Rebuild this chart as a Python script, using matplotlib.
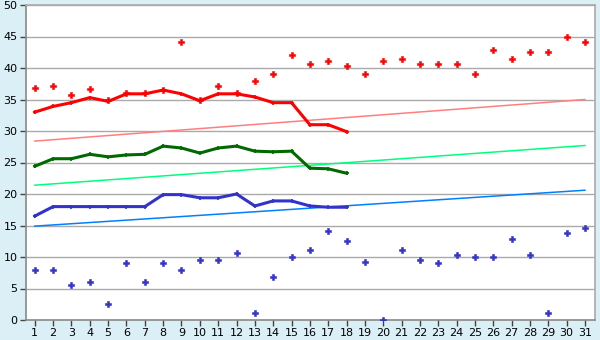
import matplotlib
matplotlib.use("Agg")
import matplotlib.pyplot as plt
import numpy as np

days = list(range(1, 32))

red_points = [36.8, 37.2, 35.7, 36.6, 35.0, 36.0, 36.0, 36.5, 44.1, 35.0,
              37.1, 36.0, 38.0, 39.0, 42.0, 40.6, 41.1, 40.3, 39.0, 41.1,
              41.5, 40.6, 40.6, 40.6, 39.0, 42.8, 41.5, 42.5, 42.5, 45.0, 44.1]
blue_points = [8.0, 8.0, 5.5, 6.0, 2.6, 9.0, 6.0, 9.0, 8.0, 9.5,
               9.5, 10.6, 1.1, 6.9, 10.0, 11.1, 14.1, 12.5, 9.2, 0.0,
               11.1, 9.5, 9.0, 10.3, 10.0, 10.0, 12.8, 10.3, 1.1, 13.8, 14.6]

line_days = list(range(1, 19))
red_line = [33.0, 33.9, 34.5, 35.3, 34.7, 35.9, 35.9, 36.5, 35.9, 34.8,
            35.9, 35.9, 35.4, 34.5, 34.5, 31.0, 31.0, 29.9]
green_line = [24.4, 25.6, 25.6, 26.3, 25.9, 26.2, 26.3, 27.6, 27.3, 26.5,
              27.3, 27.6, 26.8, 26.7, 26.8, 24.1, 24.0, 23.3]
blue_line = [16.5, 18.0, 18.0, 18.0, 18.0, 18.0, 18.0, 19.9, 19.9, 19.4,
             19.4, 20.0, 18.1, 18.9, 18.9, 18.1, 17.9, 17.9]

trend_days = [1, 31]
red_trend = [28.4, 35.0]
green_trend = [21.4, 27.7]
blue_trend = [14.9, 20.6]

y_ticks = [0, 5, 10, 15, 20, 25, 30, 35, 40, 45, 50]

bg = "#daeff6"
fig = plt.figure(figsize=(6, 3.4), dpi=100, facecolor=bg)
ax = fig.add_axes([26/600, 20/340, 569/600, 315/340])
ax.set_facecolor("white")

for y in y_ticks[1:]:
    ax.axhline(y, color="#aaaaaa", lw=1.0, zorder=1)

ax.plot(trend_days, red_trend, color="#ff7f7f", lw=1.1, zorder=2)
ax.plot(trend_days, green_trend, color="#00ff7f", lw=1.1, zorder=2)
ax.plot(trend_days, blue_trend, color="#007fff", lw=1.1, zorder=2)

ax.plot(line_days, red_line, color="#ff0000", lw=2.2, marker="+", ms=3.5, mew=1.2, zorder=3)
ax.plot(line_days, green_line, color="#006a00", lw=2.2, marker="+", ms=3.5, mew=1.2, zorder=3)
ax.plot(line_days, blue_line, color="#3333cc", lw=2.2, marker="+", ms=3.5, mew=1.2, zorder=3)

ax.scatter(days, red_points, marker="P", s=18, color="#ff0000",
           edgecolors="#ff0000", linewidths=0.4, zorder=4)
ax.scatter(days, blue_points, marker="P", s=18, color="#3333cc",
           edgecolors="#3333cc", linewidths=0.4, zorder=4)

ax.set_xlim(0.52, 31.55)
ax.set_ylim(0, 50)
ax.set_xticks(days)
ax.set_yticks(y_ticks)
ax.tick_params(axis="both", labelsize=8, colors="#444444", labelcolor="black",
               length=4, width=1)
ax.tick_params(axis="x", pad=2)
ax.tick_params(axis="y", pad=2)
for s in ["left", "bottom"]:
    ax.spines[s].set_color("#888888")
for s in ["top", "right"]:
    ax.spines[s].set_color("#aaaaaa")
for s in ax.spines.values():
    s.set_linewidth(1.2)

fig.savefig("out.png", dpi=100, facecolor=bg)
